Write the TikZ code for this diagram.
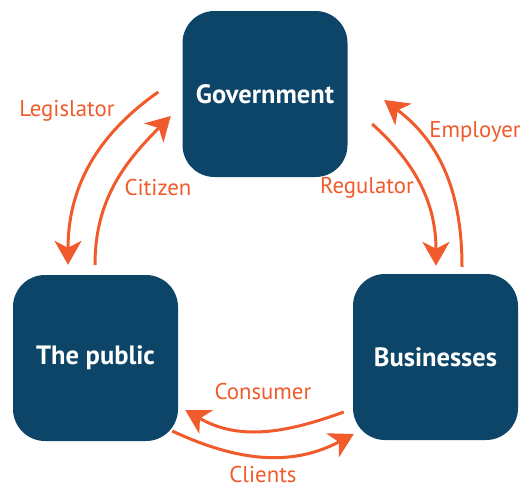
\documentclass[tikz,border=0pt]{standalone}
\usepackage{fontspec}
\setmainfont{PT Sans}
\usetikzlibrary{arrows.meta, positioning}

\definecolor{navy}{HTML}{0C4567}
\definecolor{flame}{HTML}{F15A2B}

\begin{document}
\begin{tikzpicture}[x=1pt, y=-1pt,
    >={Stealth[length=24pt, width=27pt, inset=7pt]},
    actor/.style={draw=none, fill=navy, rounded corners=32pt,
        minimum width=165pt, minimum height=166pt, inner sep=0pt,
        text=white, font=\fontsize{26.5}{30}\selectfont\bfseries},
    flow/.style={->, draw=flame, line width=3pt},
    role/.style={text=flame, font=\fontsize{22.8}{26}\selectfont, inner sep=0pt}]
  \useasboundingbox (0,0) rectangle (525,485);

  % the three actors
  \node[actor] (gov) at (265,94) {Government};
  \node[actor] (pub) at (95.5,358) {The public};
  \node[actor] (bus) at (435.5,357) {Businesses};

  % government <-> public
  \draw[flow] ([xshift=-24pt, yshift=2pt]gov.west)
    to[out=215, in=90] ([xshift=-27.5pt, yshift=10pt]pub.north);
  \draw[flow] ([xshift=-0.5pt, yshift=10pt]pub.north)
    to[out=90, in=225] ([xshift=-11.5pt, yshift=-22pt]gov.west);

  % government <-> businesses
  \draw[flow] ([xshift=24.5pt, yshift=-30pt]gov.east)
    to[out=-42, in=90] ([xshift=0.5pt, yshift=8pt]bus.north);
  \draw[flow] ([xshift=26.5pt, yshift=7pt]bus.north)
    to[out=90, in=-37] ([xshift=36.5pt, yshift=-6pt]gov.east);

  % public <-> businesses
  \draw[flow] ([xshift=-9pt, yshift=-55pt]bus.west)
    to[out=200, in=-30] ([xshift=7pt, yshift=-52pt]pub.east);
  \draw[flow] ([xshift=-6pt, yshift=-73pt]pub.east)
    to[out=-25, in=208] ([xshift=1pt, yshift=-77pt]bus.west);

  % roles
  \node[role] (legis) at (67,111) {Legislator};
  \node[role] (citiz) at (158,188) {Citizen};
  \node[role] (regul) at (367,188) {Regulator};
  \node[role] (emplo) at (475,132) {Employer};
  \node[role] (consu) at (263,392) {Consumer};
  \node[role] (clien) at (263,475) {Clients};
\end{tikzpicture}
\end{document}
